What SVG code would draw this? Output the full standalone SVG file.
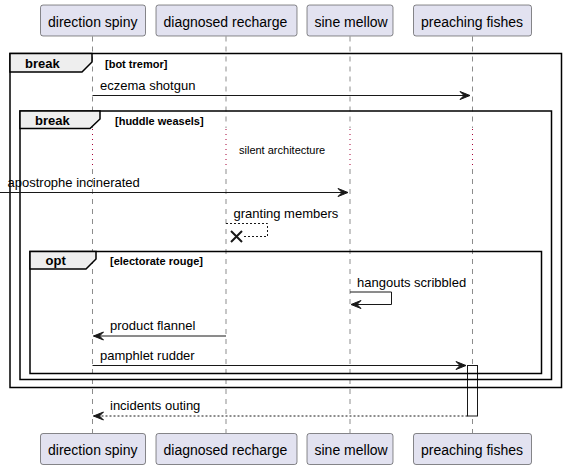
<svg xmlns="http://www.w3.org/2000/svg" width="566" height="470" viewBox="0 0 566 470">
<style>
text{font-family:"Liberation Sans",Arial,sans-serif;fill:#000000}
.pbox{fill:#E2E2F0;stroke:#181818;stroke-width:0.5}
.plab{font-size:14px}
.life{stroke:#181818;stroke-width:0.5;stroke-dasharray:5,5;fill:none}
.delay{stroke:#A80036;stroke-width:1;stroke-dasharray:1,4;fill:none}
.frame{fill:none;stroke:#000000;stroke-width:1.5}
.tab{fill:#EEEEEE;stroke:#000000;stroke-width:1.5}
.gname{font-size:13px;font-weight:bold}
.gcond{font-size:11px;font-weight:bold}
.msg{font-size:13px}
.ln{stroke:#181818;stroke-width:1;fill:none}
.dash{stroke:#181818;stroke-width:1;fill:none;stroke-dasharray:2,2}
.head{fill:#181818;stroke:#181818;stroke-width:1}
.act{fill:#FFFFFF;stroke:#181818;stroke-width:1}
</style>
<g id="lifelines">
<path class="life" d="M92.5,36.5 V128 M92.5,169 V433"/>
<path class="life" d="M226,36.5 V128 M226,169 V433"/>
<path class="life" d="M350,36.5 V128 M350,169 V433"/>
<path class="life" d="M472.5,36.5 V128 M472.5,169 V433"/>
<path class="delay" d="M92.5,129 V169 M226,129 V169 M350,129 V169 M472.5,129 V169"/>
</g>
<g id="direction-spiny">
<rect class="pbox" x="40.5" y="5" width="105" height="31" rx="2.5"/>
<text class="plab" x="48" y="26.5">direction spiny</text>
<rect class="pbox" x="40.5" y="433.5" width="105" height="31" rx="2.5"/>
<text class="plab" x="48" y="455">direction spiny</text>
</g>
<g id="diagnosed-recharge">
<rect class="pbox" x="156" y="5" width="141" height="31" rx="2.5"/>
<text class="plab" x="163.5" y="26.5">diagnosed recharge</text>
<rect class="pbox" x="156" y="433.5" width="141" height="31" rx="2.5"/>
<text class="plab" x="163.5" y="455">diagnosed recharge</text>
</g>
<g id="sine-mellow">
<rect class="pbox" x="307" y="5" width="86" height="31" rx="2.5"/>
<text class="plab" x="314.5" y="26.5">sine mellow</text>
<rect class="pbox" x="307" y="433.5" width="86" height="31" rx="2.5"/>
<text class="plab" x="314.5" y="455">sine mellow</text>
</g>
<g id="preaching-fishes">
<rect class="pbox" x="413.5" y="5" width="118" height="31" rx="2.5"/>
<text class="plab" x="421" y="26.5">preaching fishes</text>
<rect class="pbox" x="413.5" y="433.5" width="118" height="31" rx="2.5"/>
<text class="plab" x="421" y="455">preaching fishes</text>
<rect class="act" x="467.5" y="365.5" width="10" height="50.5"/>
</g>
<g id="break-bot-tremor">
<rect class="frame" x="10" y="53.5" width="551.5" height="334"/>
<path class="tab" d="M10,53.5 H92 V62 L82,72 H10 Z"/>
<text class="gname" x="25" y="68">break</text>
<text class="gcond" x="105" y="67.5">[bot tremor]</text>
</g>
<g id="break-huddle-weasels">
<rect class="frame" x="20" y="111" width="531.5" height="268.5"/>
<path class="tab" d="M20,111 H100 V119 L90,128.5 H20 Z"/>
<text class="gname" x="35" y="125">break</text>
<text class="gcond" x="115" y="124.5">[huddle weasels]</text>
</g>
<g id="opt-electorate-rouge">
<rect class="frame" x="30" y="251.5" width="511.5" height="122"/>
<path class="tab" d="M30,251.5 H96 V259 L86,269 H30 Z"/>
<text class="gname" x="45.5" y="265">opt</text>
<text class="gcond" x="110" y="264.5">[electorate rouge]</text>
</g>
<g id="delay">
<text x="239" y="154" style="font-size:11px">silent architecture</text>
</g>
<g id="connectors">
<line class="ln" x1="92.5" y1="95.5" x2="470" y2="95.5"/>
<polygon class="head" points="460,91.5 470,95.5 460,99.5 464,95.5"/>
<text class="msg" x="100" y="89.5">eczema shotgun</text>

<line class="ln" x1="0" y1="192.5" x2="348" y2="192.5"/>
<polygon class="head" points="338,188.5 348,192.5 338,196.5 342,192.5"/>
<text class="msg" x="7.5" y="186.5">apostrophe incinerated</text>

<path class="dash" d="M226,223.5 H267.5 V236.5 H242"/>
<path d="M231,231 L242,242 M231,242 L242,231" stroke="#181818" stroke-width="2" fill="none"/>
<text class="msg" x="233.5" y="217.5">granting members</text>

<path class="ln" d="M350,292 H391.5 V304.5 H351"/>
<polygon class="head" points="361,300.5 351,304.5 361,308.5 357,304.5"/>
<text class="msg" x="357" y="286.5">hangouts scribbled</text>

<line class="ln" x1="226" y1="336" x2="93.5" y2="336"/>
<polygon class="head" points="103.5,332 93.5,336 103.5,340 99.5,336"/>
<text class="msg" x="110" y="330">product flannel</text>

<line class="ln" x1="92.5" y1="365.5" x2="466" y2="365.5"/>
<polygon class="head" points="456,361.5 466,365.5 456,369.5 460,365.5"/>
<text class="msg" x="100" y="359.5">pamphlet rudder</text>

<line class="dash" x1="467.5" y1="416" x2="93.5" y2="416"/>
<polygon class="head" points="103.5,412 93.5,416 103.5,420 99.5,416"/>
<text class="msg" x="110" y="410">incidents outing</text>
</g>
</svg>
